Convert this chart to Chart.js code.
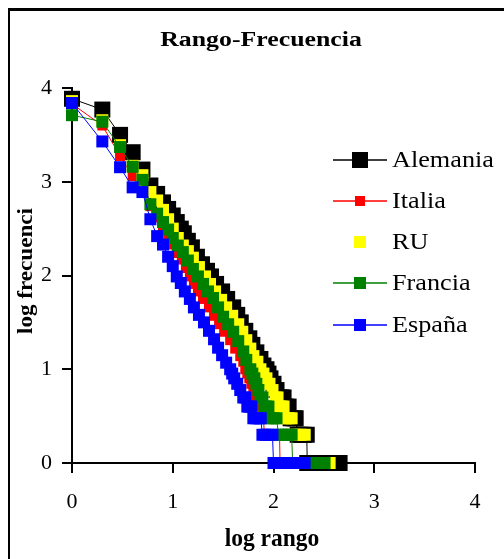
<!DOCTYPE html>
<html>
<head>
<meta charset="utf-8">
<script src="https://cdn.jsdelivr.net/npm/chart.js@4.4.1/dist/chart.umd.min.js"></script>
<style>
  html, body { margin: 0; padding: 0; background: #ffffff; }
  canvas { display: block; }
</style>
</head>
<body>
<canvas id="chart" width="504" height="559"></canvas>
<script>
// Rango-frecuencia: pares [log10 rango, log10 frecuencia]
const chartTitle = 'Rango-Frecuencia';
const xAxisTitle = 'log rango';
const yAxisTitle = 'log frecuenci';
const seriesNames = ['Alemania', 'Italia', 'RU', 'Francia', 'España'];
const axisTicks = [0, 1, 2, 3, 4];

const alemania = [
  [0, 3.885], [0.301, 3.77], [0.477, 3.50], [0.602, 3.315], [0.699, 3.13], [0.778, 2.96],
  [0.845, 2.87], [0.903, 2.78], [0.954, 2.71], [1.0, 2.64], [1.04, 2.57], [1.08, 2.50],
  [1.11, 2.45], [1.15, 2.37], [1.19, 2.30], [1.24, 2.20], [1.29, 2.12], [1.34, 2.05],
  [1.38, 1.99], [1.43, 1.91], [1.49, 1.83], [1.54, 1.75], [1.60, 1.66], [1.64, 1.58],
  [1.675, 1.50], [1.72, 1.41], [1.76, 1.33], [1.79, 1.26], [1.83, 1.18], [1.87, 1.11],
  [1.90, 1.04], [1.93, 1.0], [1.95, 0.954], [1.97, 0.903], [2.00, 0.845], [2.03, 0.778],
  [2.06, 0.699], [2.08, 0.699], [2.10, 0.699], [2.12, 0.602], [2.15, 0.602], [2.17, 0.477],
  [2.20, 0.477], [2.22, 0.477], [2.24, 0.301], [2.27, 0.301], [2.30, 0.301], [2.33, 0.301],
  [2.335, 0], [2.39, 0], [2.45, 0], [2.51, 0], [2.57, 0], [2.62, 0], [2.656, 0]
];

const italia = [
  [0, 3.83], [0.301, 3.60], [0.477, 3.275], [0.602, 3.06], [0.699, 2.88], [0.778, 2.74],
  [0.845, 2.62], [0.903, 2.52], [0.954, 2.42], [1.0, 2.33], [1.05, 2.24], [1.09, 2.17],
  [1.13, 2.08], [1.17, 1.99], [1.21, 1.91], [1.25, 1.83], [1.30, 1.75], [1.36, 1.66],
  [1.41, 1.57], [1.46, 1.48], [1.51, 1.40], [1.57, 1.31], [1.62, 1.22], [1.67, 1.14],
  [1.70, 1.08], [1.72, 1.0], [1.74, 0.954], [1.76, 0.903], [1.78, 0.845], [1.80, 0.778],
  [1.82, 0.699], [1.84, 0.602], [1.86, 0.602], [1.87, 0.477], [1.89, 0.477], [1.90, 0.477],
  [1.91, 0.301], [1.95, 0.301], [1.99, 0.301], [2.03, 0.301], [2.06, 0.301],
  [2.065, 0], [2.12, 0], [2.18, 0], [2.24, 0], [2.30, 0], [2.35, 0], [2.38, 0]
];

const ru = [
  [0, 3.86], [0.301, 3.656], [0.477, 3.39], [0.602, 3.17], [0.699, 3.07], [0.778, 2.89],
  [0.845, 2.80], [0.903, 2.70], [0.954, 2.60], [1.0, 2.50], [1.05, 2.40], [1.10, 2.32],
  [1.15, 2.26], [1.20, 2.19], [1.26, 2.09], [1.32, 1.99], [1.37, 1.91], [1.42, 1.83],
  [1.48, 1.74], [1.53, 1.66], [1.59, 1.57], [1.65, 1.48], [1.69, 1.40], [1.73, 1.31],
  [1.77, 1.22], [1.80, 1.14], [1.84, 1.08], [1.87, 1.0], [1.90, 0.954], [1.93, 0.903],
  [1.96, 0.845], [1.99, 0.778], [2.02, 0.699], [2.04, 0.699], [2.06, 0.602], [2.08, 0.602],
  [2.10, 0.602], [2.12, 0.477], [2.15, 0.477], [2.18, 0.477], [2.20, 0.301], [2.23, 0.301],
  [2.27, 0.301], [2.31, 0.301], [2.32, 0], [2.37, 0], [2.42, 0], [2.47, 0], [2.52, 0], [2.557, 0]
];

const francia = [
  [0, 3.71], [0.301, 3.64], [0.477, 3.37], [0.602, 3.16], [0.699, 3.02], [0.778, 2.76],
  [0.845, 2.66], [0.903, 2.57], [0.954, 2.49], [1.0, 2.40], [1.05, 2.32], [1.10, 2.25],
  [1.15, 2.16], [1.20, 2.07], [1.25, 1.99], [1.30, 1.91], [1.35, 1.83], [1.40, 1.76],
  [1.45, 1.66], [1.50, 1.56], [1.55, 1.48], [1.60, 1.40], [1.65, 1.30], [1.70, 1.19],
  [1.73, 1.10], [1.77, 1.0], [1.79, 0.954], [1.81, 0.903], [1.83, 0.845], [1.85, 0.778],
  [1.87, 0.699], [1.89, 0.699], [1.91, 0.602], [1.93, 0.602], [1.95, 0.602], [1.97, 0.477],
  [2.00, 0.477], [2.03, 0.477], [2.05, 0.301], [2.08, 0.301], [2.12, 0.301], [2.15, 0.301],
  [2.18, 0.301], [2.19, 0], [2.25, 0], [2.31, 0], [2.37, 0], [2.43, 0], [2.48, 0], [2.507, 0]
];

const espana = [
  [0, 3.84], [0.301, 3.43], [0.477, 3.155], [0.602, 2.94], [0.699, 2.89], [0.778, 2.60],
  [0.845, 2.42], [0.903, 2.33], [0.954, 2.20], [1.0, 2.10], [1.04, 1.99], [1.08, 1.92],
  [1.12, 1.83], [1.17, 1.75], [1.21, 1.66], [1.26, 1.58], [1.31, 1.50], [1.36, 1.41],
  [1.41, 1.32], [1.45, 1.23], [1.49, 1.15], [1.53, 1.07], [1.57, 1.0], [1.59, 0.954],
  [1.61, 0.903], [1.64, 0.845], [1.67, 0.778], [1.70, 0.699], [1.72, 0.699], [1.74, 0.602],
  [1.76, 0.602], [1.78, 0.602], [1.80, 0.477], [1.83, 0.477], [1.86, 0.477], [1.873, 0.477],
  [1.89, 0.301], [1.92, 0.301], [1.95, 0.301], [1.99, 0.301],
  [2.0, 0], [2.05, 0], [2.10, 0], [2.15, 0], [2.20, 0], [2.25, 0], [2.309, 0]
];

const seriesData = [alemania, italia, ru, francia, espana];
const seriesColors = ['#000000', '#ff0000', '#ffff00', '#008000', '#0000ff'];
const seriesShowLine = [true, true, false, true, true];
// side of the square marker, px
const markerSide = [16, 10, 12, 12, 12];

const SERIF = '"Liberation Serif", "Times New Roman", serif';

function toPoints(pairs) {
  return pairs.map(([x, y]) => ({ x, y }));
}

// draw text squeezed or widened horizontally around an anchor
function drawScaledText(ctx, text, x, y, font, sx, align) {
  ctx.save();
  ctx.font = font;
  ctx.fillStyle = '#000000';
  ctx.textBaseline = 'alphabetic';
  const w = ctx.measureText(text).width * sx;
  let left = x;
  if (align === 'center') left = x - w / 2;
  ctx.translate(left, y);
  ctx.scale(sx, 1);
  ctx.textAlign = 'left';
  ctx.fillText(text, 0, 0);
  ctx.restore();
}

const decorations = {
  id: 'decorations',
  afterDraw(chart) {
    const ctx = chart.ctx;
    // outer frame: only its top and left edges fall inside the canvas
    ctx.save();
    ctx.fillStyle = '#000000';
    ctx.fillRect(8, 8, chart.width - 8, 3);
    ctx.fillRect(8, 8, 2, chart.height - 8);
    ctx.restore();

    drawScaledText(ctx, chartTitle, 261, 46, 'bold 20px ' + SERIF, 1.29, 'center');
    drawScaledText(ctx, xAxisTitle, 272, 546, 'bold 25px ' + SERIF, 0.94, 'center');

    ctx.save();
    ctx.translate(32, 271);
    ctx.rotate(-Math.PI / 2);
    drawScaledText(ctx, yAxisTitle, 0, 0, 'bold 22px ' + SERIF, 1.05, 'center');
    ctx.restore();

    // legend
    const rowTop = 159.5, rowStep = 41.25;
    chart.data.datasets.forEach((ds, i) => {
      const cy = Math.round(rowTop + i * rowStep);
      ctx.save();
      if (ds.showLine) {
        ctx.strokeStyle = ds.borderColor;
        ctx.lineWidth = 1.5;
        ctx.beginPath();
        ctx.moveTo(333, cy);
        ctx.lineTo(387, cy);
        ctx.stroke();
      }
      const s = ds.pointRadius * Math.SQRT2;
      ctx.fillStyle = ds.pointBackgroundColor;
      ctx.fillRect(360 - s / 2, cy - s / 2, s, s);
      ctx.restore();
      drawScaledText(ctx, ds.label, 392, cy + 7, '23px ' + SERIF, 1.14, 'left');
    });
  }
};

const datasets = seriesNames.map((name, i) => ({
  label: name,
  data: toPoints(seriesData[i]),
  showLine: seriesShowLine[i],
  borderColor: seriesColors[i],
  backgroundColor: seriesColors[i],
  borderWidth: 1,
  pointStyle: 'rect',
  pointRadius: markerSide[i] / Math.SQRT2,
  pointBackgroundColor: seriesColors[i],
  pointBorderWidth: 0,
  pointHoverRadius: markerSide[i] / Math.SQRT2,
  order: seriesNames.length - i,
  clip: false
}));

const axisCommon = {
  type: 'linear',
  min: axisTicks[0],
  max: axisTicks[axisTicks.length - 1],
  afterBuildTicks(scale) {
    scale.ticks = axisTicks.map(v => ({ value: v }));
  },
  ticks: {
    color: '#000000',
    font: { family: SERIF, size: 22 },
    autoSkip: false,
    maxRotation: 0
  },
  grid: {
    drawOnChartArea: false,
    drawTicks: true,
    tickLength: 10,
    color: '#000000',
    lineWidth: 2
  },
  border: { display: true, color: '#000000', width: 2 }
};

new Chart(document.getElementById('chart'), {
  type: 'scatter',
  data: { datasets },
  options: {
    responsive: false,
    animation: false,
    events: [],
    layout: { padding: { left: 0, right: 29, top: 88, bottom: 0 } },
    plugins: {
      legend: { display: false },
      title: { display: false },
      tooltip: { enabled: false }
    },
    scales: {
      x: Object.assign({}, axisCommon, {
        position: 'bottom',
        ticks: Object.assign({}, axisCommon.ticks, { padding: 16 }),
        afterFit(scale) { scale.height = 96; }
      }),
      y: Object.assign({}, axisCommon, {
        position: 'left',
        ticks: Object.assign({}, axisCommon.ticks, { padding: 10 }),
        afterFit(scale) { scale.width = 72; }
      })
    }
  },
  plugins: [decorations]
});
</script>
</body>
</html>
